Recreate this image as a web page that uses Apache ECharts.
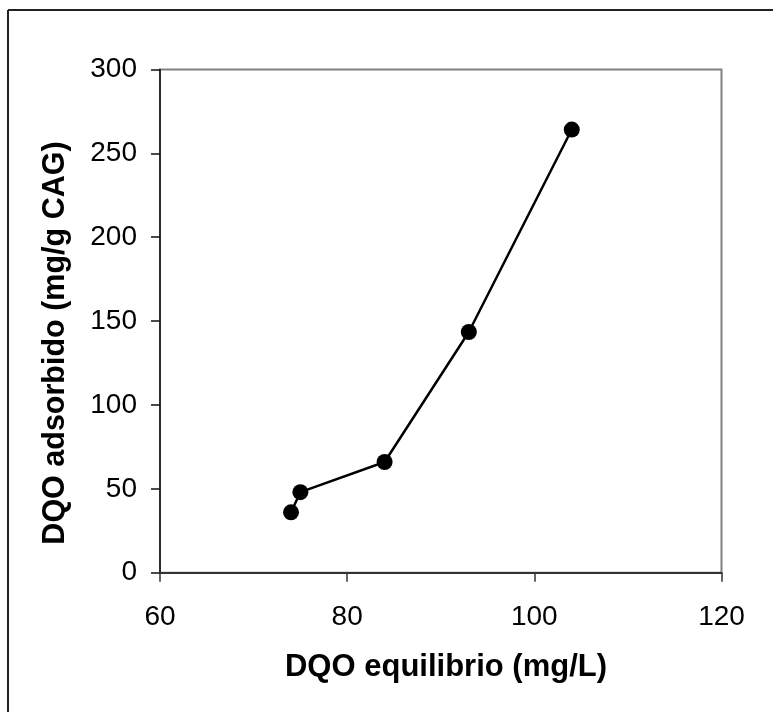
<!DOCTYPE html>
<html><head><meta charset="utf-8">
<script src="https://cdn.jsdelivr.net/npm/echarts@6/dist/echarts.min.js"></script>
<style>html,body{margin:0;padding:0;background:#fff}#c{width:773px;height:712px}</style>
</head><body><div id="c"></div>
<script>
var xValues = [74, 75, 84, 93, 104];
var yValues = [36, 48, 66, 143.5, 264.2];
var xTitle = 'DQO equilibrio (mg/L)';
var yTitle = 'DQO adsorbido (mg/g CAG)';
var font = 'Liberation Sans, Arial, sans-serif';

var chart = echarts.init(document.getElementById('c'), null, {renderer: 'canvas'});
chart.setOption({
  animation: false,
  backgroundColor: '#fff',
  grid: {left: 160, right: 51.5, top: 69.5, bottom: 139.3, show: true, borderColor: '#808080', borderWidth: 2, backgroundColor: 'transparent'},
  xAxis: {
    type: 'value', min: 60, max: 120, interval: 20,
    axisLine: {show: true, onZero: false, lineStyle: {color: '#333', width: 2}},
    axisTick: {show: true, inside: false, length: 9, lineStyle: {color: '#333', width: 1.5}},
    axisLabel: {color: '#000', fontSize: 28, fontFamily: font, margin: 31},
    splitLine: {show: false}
  },
  yAxis: {
    type: 'value', min: 0, max: 300, interval: 50,
    axisLine: {show: true, onZero: false, lineStyle: {color: '#111', width: 1.5}},
    axisTick: {show: true, inside: false, length: 9, lineStyle: {color: '#111', width: 1.5}},
    axisLabel: {color: '#000', fontSize: 28, fontFamily: font, margin: 23},
    splitLine: {show: false}
  },
  series: [{
    type: 'line',
    data: xValues.map(function (x, i) { return [x, yValues[i]]; }),
    symbol: 'circle', symbolSize: 16,
    itemStyle: {color: '#000'},
    lineStyle: {color: '#000', width: 2.5}
  }],
  graphic: [
    {type: 'line', shape: {x1: 8, y1: 10, x2: 773, y2: 10}, style: {stroke: '#222', lineWidth: 2}},
    {type: 'line', shape: {x1: 8, y1: 10, x2: 8, y2: 712}, style: {stroke: '#222', lineWidth: 2}},
    {type: 'text', x: 446, y: 667, style: {text: xTitle, font: 'bold 31px ' + font, fill: '#000', textAlign: 'center', textVerticalAlign: 'middle'}},
    {type: 'text', x: 56, y: 343, rotation: Math.PI / 2, style: {text: yTitle, font: 'bold 30.5px ' + font, fill: '#000', textAlign: 'center', textVerticalAlign: 'middle'}}
  ]
});
</script></body></html>
